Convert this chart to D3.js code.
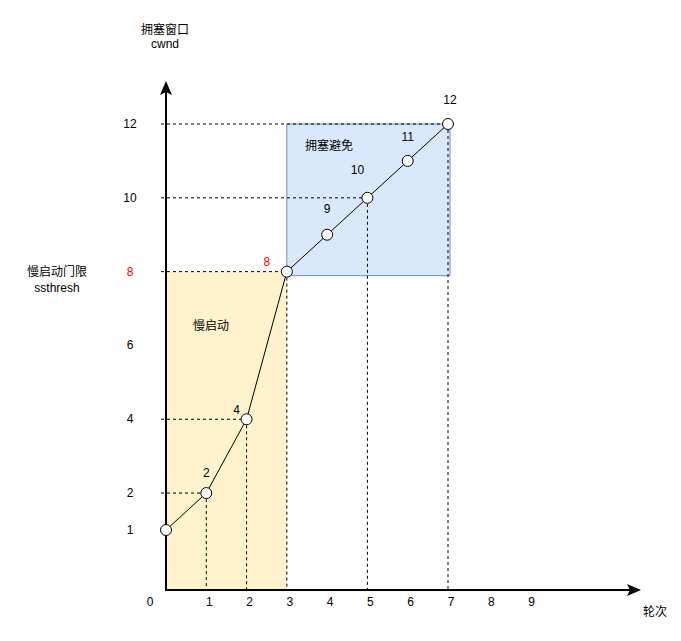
<!DOCTYPE html>
<html><head><meta charset="utf-8">
<script src="https://cdn.jsdelivr.net/npm/d3@7"></script>
<style>
body{margin:0;background:#fff;}
text{font-family:"Liberation Sans",Arial,"Noto Sans CJK SC",sans-serif;font-size:12px;fill:#000;}
</style></head>
<body><svg id="c" width="681" height="641"></svg>
<script>
// data
const rounds = [0, 1, 2, 3, 4, 5, 6, 7];
const cwnd = [1, 2, 4, 8, 9, 10, 11, 12];
const xTicks = [1, 2, 3, 4, 5, 6, 7, 8, 9];
const yTicks = [1, 2, 4, 6, 8, 10, 12];
const ssthresh = 8;
const guideRounds = [1, 2, 3, 5, 7];
const yTitle = ["拥塞窗口", "cwnd"];
const threshTitle = ["慢启动门限", "ssthresh"];
const xTitle = "轮次";
const slowStartLabel = "慢启动";
const avoidLabel = "拥塞避免";

const svg = d3.select("#c");
const x = d3.scaleLinear().domain([0, 7]).range([166, 448]);
const y = d3.scaleLinear().domain([1, 12]).range([530, 124]);
const axisY = 590;

// regions
svg.append("rect").attr("x", x(0)).attr("y", y(ssthresh))
  .attr("width", x(3) - x(0)).attr("height", axisY - y(ssthresh))
  .attr("fill", "#fff2cc");
svg.append("rect").attr("x", x(3)).attr("y", y(12))
  .attr("width", x(7) + 2 - x(3)).attr("height", y(ssthresh) + 4 - y(12))
  .attr("fill", "#dae8fc").attr("stroke", "#6c8ebf").attr("stroke-width", 1);

// guides
const pts = rounds.map((r, i) => ({r, v: cwnd[i]}));
const guides = pts.filter(d => guideRounds.includes(d.r));
svg.selectAll(".hg").data(guides).join("line")
  .attr("x1", x(0) - 5).attr("x2", d => x(d.r)).attr("y1", d => y(d.v)).attr("y2", d => y(d.v))
  .attr("stroke", "#000").attr("stroke-dasharray", "3,3");
svg.selectAll(".vg").data(guides).join("line")
  .attr("x1", d => x(d.r)).attr("x2", d => x(d.r)).attr("y1", d => y(d.v)).attr("y2", axisY)
  .attr("stroke", "#000").attr("stroke-dasharray", "3,3");

// axes
svg.append("line").attr("x1", x(0)).attr("x2", x(0)).attr("y1", axisY + 1).attr("y2", 92)
  .attr("stroke", "#000").attr("stroke-width", 2);
svg.append("path").attr("d", `M${x(0)},81 L${x(0)+6},95 L${x(0)},92 L${x(0)-6},95 Z`).attr("fill", "#000");
svg.append("line").attr("x1", x(0) - 1).attr("x2", 630).attr("y1", axisY).attr("y2", axisY)
  .attr("stroke", "#000").attr("stroke-width", 2);
svg.append("path").attr("d", `M641,${axisY} L627,${axisY-6} L630,${axisY} L627,${axisY+6} Z`).attr("fill", "#000");

// tick labels
svg.selectAll(".xt").data(xTicks).join("text")
  .attr("x", d => x(d) + 3).attr("y", 606).attr("text-anchor", "middle").text(d => d);
svg.append("text").attr("x", 150).attr("y", 606).attr("text-anchor", "middle").text(0);
svg.selectAll(".yt").data(yTicks).join("text")
  .attr("x", 130).attr("y", d => y(d) + 4).attr("text-anchor", "middle")
  .attr("fill", d => d === ssthresh ? "#ff0000" : "#000")
  .style("fill", d => d === ssthresh ? "#ff0000" : "#000")
  .text(d => d);

// line + points
svg.append("path").datum(pts)
  .attr("d", d3.line().x(d => x(d.r)).y(d => y(d.v)))
  .attr("fill", "none").attr("stroke", "#000").attr("stroke-width", 1);
svg.selectAll(".pt").data(pts).join("circle")
  .attr("cx", d => x(d.r)).attr("cy", d => y(d.v)).attr("r", 5.5)
  .attr("fill", "#fff").attr("stroke", "#000").attr("stroke-width", 1);

// point labels
const lblOff = {1: [0, -16], 2: [-10, -5], 3: [-20, -6], 4: [0, -22], 5: [-10, -24], 6: [0, -20], 7: [2, -20]};
svg.selectAll(".pl").data(pts.filter(d => d.r > 0)).join("text")
  .attr("x", d => x(d.r) + lblOff[d.r][0]).attr("y", d => y(d.v) + lblOff[d.r][1])
  .attr("text-anchor", "middle")
  .style("fill", d => d.v === ssthresh ? "#ff0000" : "#000")
  .text(d => d.v);

// titles
svg.selectAll(".yti").data(yTitle).join("text")
  .attr("x", 165).attr("y", (d, i) => 34 + i * 14).attr("text-anchor", "middle").text(d => d);
svg.selectAll(".tti").data(threshTitle).join("text")
  .attr("x", 57).attr("y", (d, i) => 276 + i * 16).attr("text-anchor", "middle").text(d => d);
svg.append("text").attr("x", 655).attr("y", 616).attr("text-anchor", "middle").text(xTitle);
svg.append("text").attr("x", 211).attr("y", 330).attr("text-anchor", "middle").text(slowStartLabel);
svg.append("text").attr("x", 329).attr("y", 150).attr("text-anchor", "middle").text(avoidLabel);
</script></body></html>
